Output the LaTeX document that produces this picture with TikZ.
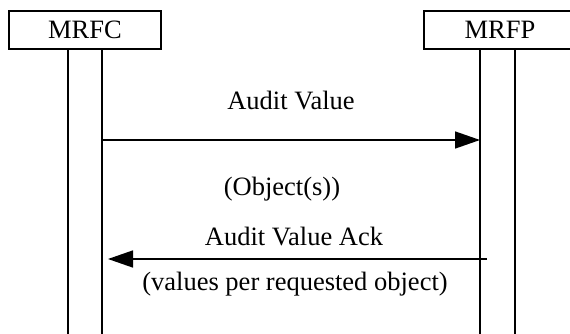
\documentclass[tikz,border=0pt]{standalone}
\usepackage{fontspec}
\setmainfont{Liberation Serif}
\usetikzlibrary{arrows.meta}
\begin{document}
\begin{tikzpicture}[x=1pt,y=-1pt,
  every node/.style={font=\fontsize{26.5}{30}\selectfont, inner sep=0pt},
  entity/.style={draw, line width=1.5pt, minimum width=152pt, minimum height=38pt},
  life/.style={line width=1.5pt},
  msg/.style={line width=1.5pt, -{Triangle[length=25pt,width=17pt]}}]
\useasboundingbox (0,0) rectangle (570,334);
\node[entity] (mrfc) at (85,30) {MRFC};
\node[entity] (mrfp) at (500,30) {MRFP};
\coordinate (c1t) at (68,49); \coordinate (c1b) at (68,334);
\coordinate (c2t) at (102,49); \coordinate (c2b) at (102,334);
\coordinate (p1t) at (480,49); \coordinate (p1b) at (480,334);
\coordinate (p2t) at (515,49); \coordinate (p2b) at (515,334);
\draw[life] (c1t) -- (c1b);
\draw[life] (c2t) -- (c2b);
\draw[life] (p1t) -- (p1b);
\draw[life] (p2t) -- (p2b);
\coordinate (a1s) at (102,140); \coordinate (a1e) at (480,140);
\coordinate (a2s) at (487,259); \coordinate (a2e) at (108,259);
\draw[msg] (a1s) -- (a1e);
\draw[msg] (a2s) -- (a2e);
\node[anchor=base] (t1) at (291,110) {Audit Value};
\node[anchor=base] (t2) at (282,195) {(Object(s))};
\node[anchor=base] (t3) at (294,245) {Audit Value Ack};
\node[anchor=base] (t4) at (295,290) {(values per requested object)};
\end{tikzpicture}
\end{document}
